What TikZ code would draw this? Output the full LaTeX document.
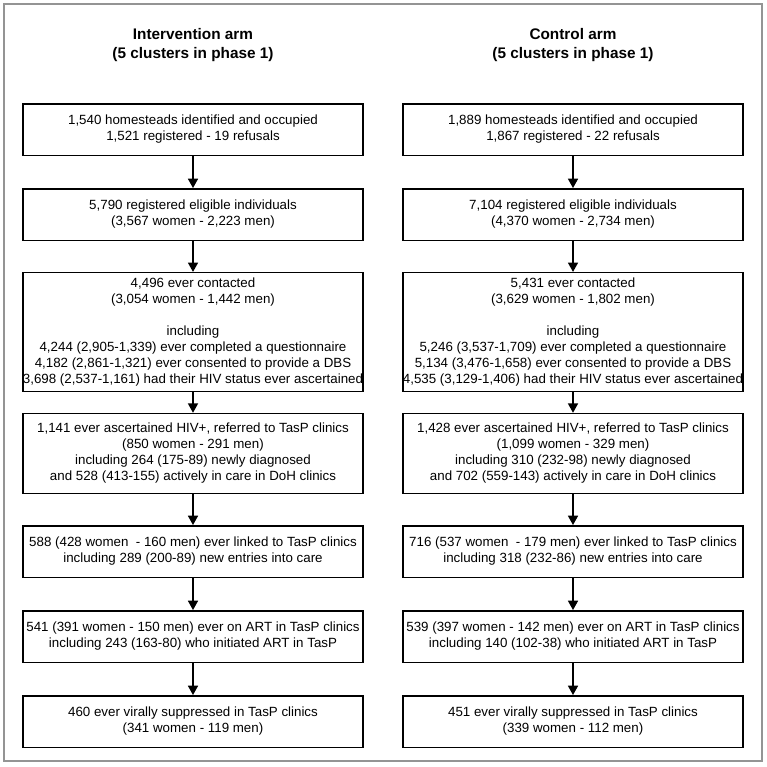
\documentclass[tikz,border=0pt]{standalone}
\usepackage{fontspec}
\setmainfont{Liberation Sans}
\usepackage{tikz}
\usetikzlibrary{arrows.meta}

\begin{document}
\begin{tikzpicture}[x=0.75pt,y=-0.75pt,
    stage/.style={draw,line width=1.1pt,inner sep=0pt,minimum width=255pt,
      align=center,font=\fontsize{10}{12}\selectfont},
    armtitle/.style={align=center,font=\fontsize{11.5}{14.5}\selectfont\bfseries},
    flow/.style={line width=1.1pt,-{Triangle[width=7.5pt,length=7pt]}}]
  \useasboundingbox (0,0) rectangle (767,767);
  \draw[line width=1.4pt,black!42] (4,4) rectangle (762,761);
  % titles
  \node[armtitle] (LT) at (193,45) {Intervention arm\\(5 clusters in phase 1)};
  \node[armtitle] (RT) at (573,45) {Control arm\\(5 clusters in phase 1)};
  % intervention arm
  \node[stage,minimum height=38.6pt] (L1) at (193,129.5)
    {1,540 homesteads identified and occupied\\1,521 registered - 19 refusals};
  \node[stage,minimum height=38.6pt] (L2) at (193,214.5)
    {5,790 registered eligible individuals\\(3,567 women - 2,223 men)};
  \node[stage,minimum height=89pt] (L3) at (193,332)
    {4,496 ever contacted\\(3,054 women - 1,442 men)\\[12pt]including\\
     4,244 (2,905-1,339) ever completed a questionnaire\\
     4,182 (2,861-1,321) ever consented to provide a DBS\\
     3,698 (2,537-1,161) had their HIV status ever ascertained};
  \node[stage,minimum height=60pt] (L4) at (193,453.5)
    {1,141 ever ascertained HIV+, referred to TasP clinics\\(850 women - 291 men)\\
     including 264 (175-89) newly diagnosed\\and 528 (413-155) actively in care in DoH clinics};
  \node[stage,minimum height=38.6pt] (L5) at (193,551.5)
    {588 (428 women~ - 160 men) ever linked to TasP clinics\\including 289 (200-89) new entries into care};
  \node[stage,minimum height=38.6pt] (L6) at (193,636.5)
    {541 (391 women - 150 men) ever on ART in TasP clinics\\including 243 (163-80) who initiated ART in TasP};
  \node[stage,minimum height=38.6pt] (L7) at (193,721.5)
    {460 ever virally suppressed in TasP clinics\\(341 women - 119 men)};
  % control arm
  \node[stage,minimum height=38.6pt] (R1) at (573,129.5)
    {1,889 homesteads identified and occupied\\1,867 registered - 22 refusals};
  \node[stage,minimum height=38.6pt] (R2) at (573,214.5)
    {7,104 registered eligible individuals\\(4,370 women - 2,734 men)};
  \node[stage,minimum height=89pt] (R3) at (573,332)
    {5,431 ever contacted\\(3,629 women - 1,802 men)\\[12pt]including\\
     5,246 (3,537-1,709) ever completed a questionnaire\\
     5,134 (3,476-1,658) ever consented to provide a DBS\\
     4,535 (3,129-1,406) had their HIV status ever ascertained};
  \node[stage,minimum height=60pt] (R4) at (573,453.5)
    {1,428 ever ascertained HIV+, referred to TasP clinics\\(1,099 women - 329 men)\\
     including 310 (232-98) newly diagnosed\\and 702 (559-143) actively in care in DoH clinics};
  \node[stage,minimum height=38.6pt] (R5) at (573,551.5)
    {716 (537 women~ - 179 men) ever linked to TasP clinics\\including 318 (232-86) new entries into care};
  \node[stage,minimum height=38.6pt] (R6) at (573,636.5)
    {539 (397 women - 142 men) ever on ART in TasP clinics\\including 140 (102-38) who initiated ART in TasP};
  \node[stage,minimum height=38.6pt] (R7) at (573,721.5)
    {451 ever virally suppressed in TasP clinics\\(339 women - 112 men)};
  % arrows
  \foreach \s in {L,R}
    \foreach \a/\b in {1/2,2/3,3/4,4/5,5/6,6/7}
      \draw[flow] (\s\a) -- (\s\b);
\end{tikzpicture}
\end{document}
